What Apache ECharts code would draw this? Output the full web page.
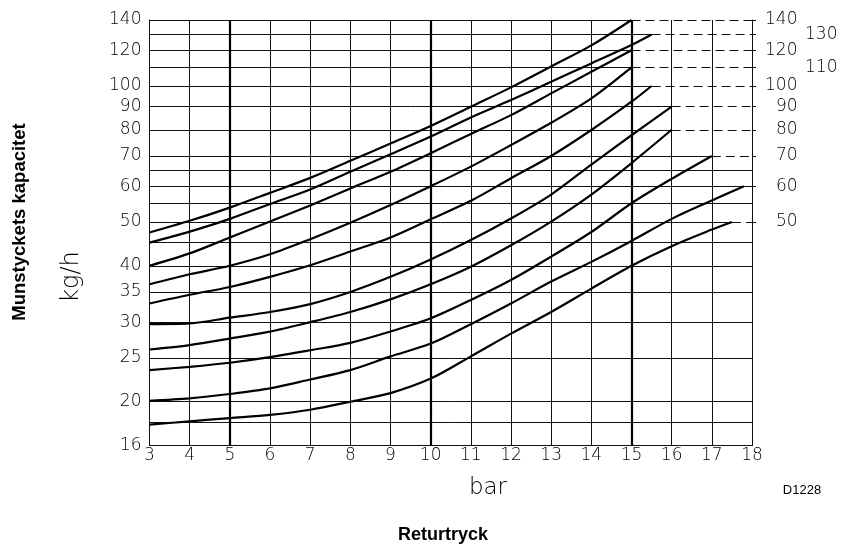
<!DOCTYPE html>
<html><head><meta charset="utf-8">
<script src="https://cdn.jsdelivr.net/npm/echarts@6/dist/echarts.min.js"></script>
<style>html,body{margin:0;padding:0;background:#fff}#c{width:845px;height:544px}</style>
</head><body><div id="c"></div>
<script>
// x positions (bar) of the read points
const bar = [3,4,5,6,7,8,9,10,11,12,13,14,15,16,17];
const xTicks = [3,4,5,6,7,8,9,10,11,12,13,14,15,16,17,18];
const boldBar = [5,10,15];
// y axis (kg/h), log scale
const leftTicks = [16,20,25,30,35,40,50,60,70,80,90,100,120,140];
const gridKap = [16,18,20,25,30,35,40,45,50,55,60,65,70,80,90,100,110,120,130,140];
// curve labels (value at the end of each curve) and where each curve ends
const curveKap = [140,130,120,110,100,90,80,70,60,50];
const curveEndBar = [15,15.5,15,15,15.5,16,16,17,17.8,17.5];
// curve values at bar = 3,4,5,... (before the end point)
const kap140 = [47.4,50.3,53.8,58.0,62.6,68.3,74.6,81.6,90.0,99.3,110.5,123];
const kap130 = [45.0,47.6,50.8,54.8,59.0,64.6,70.6,77.3,85.2,93.1,102.2,112.2,123.2];
const kap120 = [40.0,42.6,46.2,50.1,54.4,59.3,64.6,71.0,78.3,86.2,96.3,107.5];
const kap110 = [36.4,38.3,40.0,42.4,45.8,49.8,54.5,60.0,66.3,74.0,82.9,93.9];
const kap100 = [33.0,34.5,35.9,37.8,40.1,43.0,46.2,50.7,55.7,62.5,70.0,79.9,92.3];
const kap90  = [29.7,29.8,30.7,31.6,32.9,35.0,37.8,41.3,45.6,50.9,57.5,67.0,77.8];
const kap80  = [26.1,26.7,27.6,28.6,30.0,31.6,33.7,36.4,39.8,44.4,50.1,57.5,67.5];
const kap70  = [23.5,23.9,24.4,25.1,26.0,27.0,28.6,30.6,33.6,37.2,41.9,47.5,55.0,62.3];
const kap60  = [20.1,20.35,20.8,21.4,22.4,23.5,25.2,26.9,29.7,33.0,36.9,40.8,45.4,50.8,55.8];
const kap50  = [17.8,18.1,18.4,18.7,19.2,20.0,20.9,22.5,25.2,28.3,31.6,35.6,40.0,44.2,48.1];
const curves = [kap140,kap130,kap120,kap110,kap100,kap90,kap80,kap70,kap60,kap50];

const thin = "'DejaVu Sans', sans-serif";
const yMin = 16, yMax = 140, xMin = 3, xMax = 18;

const gridSegs = [];
gridKap.forEach(v => {
  const i = curveKap.indexOf(v);
  const end = i >= 0 ? curveEndBar[i] : xMax;
  gridSegs.push([{coord:[xMin,v], lineStyle:{type:'solid',width:1,color:'#111'}},{coord:[end,v]}]);
  if (i >= 0 && end < xMax) {
    gridSegs.push([{coord:[end,v], lineStyle:{type:[9,5],width:1,color:'#111'}},{coord:[xMax,v]}]);
  }
});
const boldSegs = boldBar.map(b => [{coord:[b,yMin]},{coord:[b,yMax]}]);

const series = [{
  type:'line', data:[], silent:true, z:1,
  markLine:{silent:true, symbol:['none','none'], label:{show:false}, animation:false,
    lineStyle:{color:'#111',width:1,type:'solid'}, data:gridSegs}
},{
  type:'line', data:[], silent:true, z:2,
  markLine:{silent:true, symbol:['none','none'], label:{show:false}, animation:false,
    lineStyle:{color:'#000',width:2.2,type:'solid'}, data:boldSegs}
}];
curves.forEach((vals, i) => {
  const d = vals.map((v, j) => [bar[j], v]);
  d.push([curveEndBar[i], curveKap[i]]);
  series.push({type:'line', name:String(curveKap[i]), data:d, showSymbol:false, smooth:0.3,
    lineStyle:{color:'#000', width:2.2}, z:5, animation:false, silent:true});
});

const chart = echarts.init(document.getElementById('c'), null, {renderer:'canvas'});
chart.setOption({
  animation:false,
  backgroundColor:'#fff',
  grid:{left:149.5, right:93, top:20, bottom:98.5},
  xAxis:{type:'value', min:xMin, max:xMax, interval:1,
    axisLine:{show:true, lineStyle:{color:'#111',width:1}},
    axisTick:{show:false},
    splitLine:{show:true, lineStyle:{color:'#111',width:1}},
    axisLabel:{margin:2, color:'#000', fontFamily:thin, fontWeight:200, fontSize:17,
      customValues:xTicks}},
  yAxis:[{type:'log', min:yMin, max:yMax, position:'left',
    axisLine:{show:true, lineStyle:{color:'#111',width:1}},
    axisTick:{show:false},
    splitLine:{show:false},
    axisLabel:{margin:8, color:'#000', fontFamily:thin, fontWeight:200, fontSize:17,
      customValues:leftTicks}},
   {type:'log', min:yMin, max:yMax, position:'right',
    axisLine:{show:true, lineStyle:{color:'#111',width:1}},
    axisTick:{show:true, inside:false, length:4, lineStyle:{color:'#111'}, customValues:curveKap},
    splitLine:{show:false},
    axisLabel:{margin:13, color:'#000', fontFamily:thin, fontWeight:200, fontSize:17, align:'left',
      customValues:curveKap,
      formatter: v => (v === 130 || v === 110) ? '{o|' + v + '}' : (v < 100 ? '{t|' + v + '}' : '{h|' + v + '}'),
      rich:{
        h:{fontFamily:thin, fontWeight:200, fontSize:17, color:'#000'},
        t:{fontFamily:thin, fontWeight:200, fontSize:17, color:'#000', padding:[0,0,0,11]},
        o:{fontFamily:thin, fontWeight:200, fontSize:17, color:'#000', padding:[0,0,0,40]}
      }}}],
  series: series,
  graphic:[
    {type:'text', x:72, y:277, rotation:Math.PI/2,
      style:{text:'kg/h', font:"200 24px 'DejaVu Sans'", fill:'#000', textAlign:'center', textVerticalAlign:'middle'}},
    {type:'text', x:20, y:222, rotation:Math.PI/2,
      style:{text:'Munstyckets kapacitet', font:"bold 18.5px 'Liberation Sans'", fill:'#000', textAlign:'center', textVerticalAlign:'middle'}},
    {type:'text', x:488, y:488,
      style:{text:'bar', font:"200 23px 'DejaVu Sans'", fill:'#000', textAlign:'center', textVerticalAlign:'middle'}},
    {type:'text', x:802, y:490,
      style:{text:'D1228', font:"13px 'Liberation Sans'", fill:'#000', textAlign:'center', textVerticalAlign:'middle'}},
    {type:'text', x:443, y:535,
      style:{text:'Returtryck', font:"bold 18px 'Liberation Sans'", fill:'#000', textAlign:'center', textVerticalAlign:'middle'}}
  ]
});
</script></body></html>
